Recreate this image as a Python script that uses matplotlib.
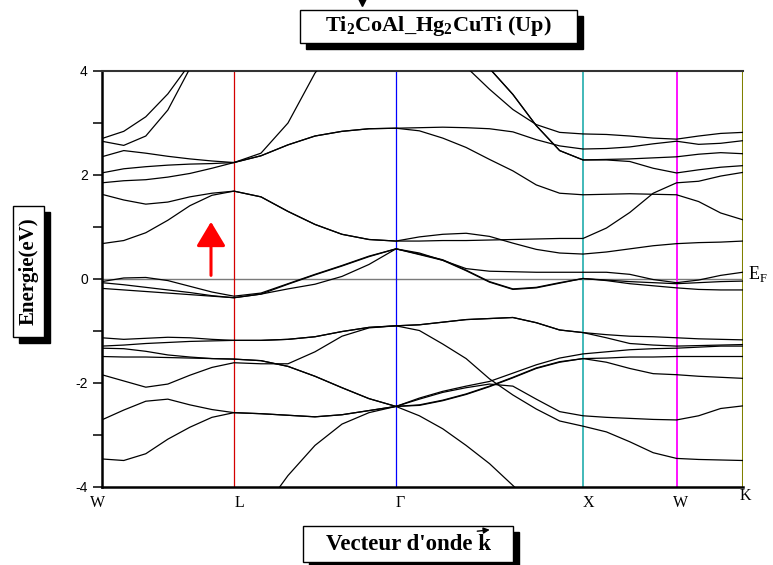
import numpy as np
import matplotlib
matplotlib.use('Agg')
import matplotlib.pyplot as plt
from matplotlib.transforms import offset_copy, IdentityTransform
from matplotlib.patches import FancyArrowPatch, Rectangle
from matplotlib.lines import Line2D

plt.rcParams['font.family'] = 'Liberation Sans'
plt.rcParams['axes.unicode_minus'] = False
plt.rcParams['mathtext.fontset'] = 'custom'
plt.rcParams['mathtext.rm'] = 'Liberation Serif'
plt.rcParams['mathtext.bf'] = 'Liberation Serif:bold'

# ── path W-L-Γ-X-W-K and sampling of each segment ─────────────────────────────
sym_labels = ['W', 'L', 'Γ', 'X', 'W', 'K']
seg_len = [0.7071, 0.8660, 1.0, 0.5, 0.3536]
seg_pts = [6, 6, 8, 4, 3]

#          W ........................................ L  ................................ Γ  ....................................................... X  ......................... W  ................. K
band_u1 = [2.69, 2.83, 3.11, 3.55, 4.13, 4.8, 5.4,  5.6, 5.8, 6.0, 6.0, 6.0, 6.0,  5.6, 5.0, 4.07, 3.64, 3.25, 2.96, 2.81, 2.78,  2.77, 2.74, 2.70, 2.68,  2.74, 2.79, 2.81]
band_u2 = [2.64, 2.56, 2.74, 3.24, 4.04, 4.8, 5.4,  5.7, 6.0, 6.2, 6.3, 6.3, 6.3,  5.9, 5.3, 4.7, 4.04, 3.54, 2.94, 2.46, 2.28,  2.29, 2.30, 2.32, 2.34,  2.39, 2.42, 2.40]
band_u3 = [2.34, 2.46, 2.41, 2.35, 2.30, 2.26, 2.23,  2.41, 2.99, 3.95, 4.6, 5.3, 6.3,  5.9, 5.3, 4.7, 4.04, 3.54, 2.94, 2.46, 2.28,  2.28, 2.25, 2.12, 2.03,  2.09, 2.14, 2.17]
band_u4 = [2.03, 2.11, 2.15, 2.18, 2.20, 2.21, 2.23,  2.36, 2.57, 2.74, 2.83, 2.88, 2.89,  2.90, 2.91, 2.90, 2.88, 2.82, 2.67, 2.55, 2.49,  2.50, 2.53, 2.59, 2.64,  2.58, 2.60, 2.65]
band_u5 = [1.84, 1.88, 1.90, 1.95, 2.02, 2.12, 2.23,  2.36, 2.57, 2.74, 2.83, 2.88, 2.89,  2.84, 2.70, 2.52, 2.29, 2.07, 1.80, 1.64, 1.61,  1.62, 1.63, 1.62, 1.61,  1.48, 1.26, 1.13]
band_u6 = [1.62, 1.51, 1.43, 1.47, 1.57, 1.64, 1.68,  1.57, 1.29, 1.04, 0.85, 0.75, 0.72,  0.80, 0.85, 0.87, 0.81, 0.68, 0.56, 0.49, 0.47,  0.51, 0.57, 0.63, 0.67,  0.69, 0.70, 0.72]
band_u7 = [0.67, 0.73, 0.88, 1.12, 1.40, 1.60, 1.68,  1.57, 1.29, 1.04, 0.85, 0.75, 0.72,  0.72, 0.73, 0.73, 0.74, 0.75, 0.76, 0.77, 0.77,  0.97, 1.27, 1.64, 1.84,  1.87, 1.97, 2.04]
band_f1 = [-0.06, 0.01, 0.02, -0.04, -0.15, -0.26, -0.34,  -0.28, -0.10, 0.08, 0.25, 0.43, 0.57,  0.49, 0.35, 0.19, 0.14, 0.13, 0.12, 0.12, 0.12,  0.12, 0.08, -0.02, -0.08,  -0.03, 0.06, 0.12]
band_f2 = [-0.08, -0.12, -0.17, -0.22, -0.27, -0.33, -0.37,  -0.30, -0.11, 0.07, 0.24, 0.42, 0.57,  0.47, 0.36, 0.16, -0.06, -0.20, -0.17, -0.08, 0.0,  -0.03, -0.06, -0.08, -0.10,  -0.08, -0.06, -0.05]
band_f3 = [-0.19, -0.22, -0.25, -0.28, -0.31, -0.34, -0.37,  -0.30, -0.20, -0.11, 0.04, 0.27, 0.57,  0.46, 0.35, 0.15, -0.07, -0.21, -0.18, -0.09, 0.0,  -0.04, -0.10, -0.14, -0.18,  -0.21, -0.22, -0.22]
band_b1 = [-1.14, -1.17, -1.15, -1.13, -1.14, -1.17, -1.19,  -1.19, -1.17, -1.12, -1.02, -0.94, -0.91,  -0.89, -0.84, -0.79, -0.77, -0.75, -0.85, -0.99, -1.04,  -1.08, -1.11, -1.12, -1.14,  -1.16, -1.17, -1.18]
band_b2 = [-1.30, -1.28, -1.25, -1.23, -1.21, -1.20, -1.19,  -1.19, -1.17, -1.12, -1.02, -0.94, -0.91,  -0.89, -0.84, -0.79, -0.77, -0.75, -0.85, -0.99, -1.04,  -1.14, -1.25, -1.28, -1.30,  -1.29, -1.28, -1.27]
band_b3 = [-1.34, -1.35, -1.40, -1.47, -1.51, -1.54, -1.55,  -1.58, -1.69, -1.88, -2.10, -2.31, -2.46,  -2.30, -2.17, -2.07, -1.98, -1.82, -1.66, -1.53, -1.45,  -1.41, -1.37, -1.35, -1.34,  -1.32, -1.30, -1.30]
band_b4 = [-1.50, -1.51, -1.51, -1.52, -1.53, -1.54, -1.55,  -1.58, -1.69, -1.88, -2.10, -2.31, -2.46,  -2.44, -2.35, -2.23, -2.08, -1.91, -1.73, -1.61, -1.54,  -1.53, -1.51, -1.51, -1.50,  -1.50, -1.50, -1.50]
band_b5 = [-1.85, -1.97, -2.09, -2.03, -1.86, -1.71, -1.62,  -1.64, -1.64, -1.41, -1.11, -0.95, -0.91,  -1.00, -1.26, -1.54, -1.93, -2.24, -2.51, -2.74, -2.84,  -2.95, -3.14, -3.35, -3.46,  -3.48, -3.49, -3.50]
band_b6 = [-2.72, -2.53, -2.36, -2.32, -2.43, -2.52, -2.58,  -2.60, -2.63, -2.66, -2.62, -2.54, -2.46,  -2.43, -2.34, -2.22, -2.07, -1.90, -1.72, -1.60, -1.54,  -1.61, -1.73, -1.83, -1.85,  -1.88, -1.90, -1.92]
band_b7 = [-3.47, -3.50, -3.37, -3.09, -2.86, -2.67, -2.58,  -2.60, -2.63, -2.66, -2.62, -2.54, -2.46,  -2.32, -2.19, -2.10, -2.03, -2.07, -2.32, -2.56, -2.64,  -2.67, -2.69, -2.71, -2.72,  -2.64, -2.50, -2.45]
band_b8 = [-6.0, -6.0, -6.0, -6.0, -6.0, -6.0, -5.5,  -4.5, -3.79, -3.21, -2.80, -2.58, -2.46,  -2.64, -2.89, -3.21, -3.56, -3.98, -4.4, -4.8, -5.2,  -5.5, -5.8, -6.0, -6.0,  -6.0, -6.0, -6.0]

bands = [band_u1, band_u2, band_u3, band_u4, band_u5, band_u6, band_u7,
         band_f1, band_f2, band_f3,
         band_b1, band_b2, band_b3, band_b4, band_b5, band_b6, band_b7, band_b8]

# k axis
sym_k = np.concatenate([[0.0], np.cumsum(seg_len)])
kgrid = [sym_k[0]]
for i, n in enumerate(seg_pts):
    kgrid.extend(np.linspace(sym_k[i], sym_k[i + 1], n + 1)[1:])
kgrid = np.array(kgrid)

# ── figure ────────────────────────────────────────────────────────────────────
W, H = 773, 565
fig = plt.figure(figsize=(W / 100, H / 100), dpi=100)
ax = fig.add_axes([101.7 / W, 1 - 486.5 / H, 641 / W, 416 / H])

for b in bands:
    ax.plot(kgrid, b, color='black', lw=0.9, zorder=3)

ax.axhline(0, color='#7a7a7a', lw=1.0, zorder=2)
sym_colors = [None, '#d40000', '#0000ff', '#33b3b3', '#ff00ff', '#808000']
sym_widths = [0, 0.9, 0.9, 1.3, 1.3, 2.2]
for k, c, w in zip(sym_k[1:], sym_colors[1:], sym_widths[1:]):
    ax.axvline(k, color=c, lw=w, zorder=2)

ax.set_xlim(sym_k[0], sym_k[-1])
ax.set_ylim(-4, 4)
ax.set_yticks([-4, -2, 0, 2, 4])
ax.set_yticks([-3, -1, 1, 3], minor=True)
ax.tick_params(axis='y', which='both', direction='out', length=6.5, width=1.1, pad=3.5,
               labelsize=10, right=False)
ax.set_xticks([])
for side in ['left', 'bottom']:
    ax.spines[side].set_linewidth(1.8)
ax.spines['top'].set_linewidth(1.5)
ax.spines['top'].set_color('#333333')
ax.spines['right'].set_visible(False)

# high-symmetry labels under the axis
lab_dx = [-4, 5, 4, 5, 4, 3]
lab_y = [-0.040, -0.040, -0.040, -0.040, -0.040, -0.023]
for k, lab, dx, yy in zip(sym_k, sym_labels, lab_dx, lab_y):
    tr = offset_copy(ax.get_xaxis_transform(), fig=fig, x=dx, y=0, units='dots')
    ax.text(k, yy, lab, transform=tr, ha='center', va='center',
            family='Liberation Serif', fontsize=11.5, clip_on=False)

# Fermi level label
tr = offset_copy(ax.get_yaxis_transform(), fig=fig, x=5, y=0, units='dots')
ax.text(1.0, 0.08, r'E$_{\mathrm{F}}$', transform=tr, ha='left', va='center',
        family='Liberation Serif', fontsize=13, clip_on=False)

# red arrow (spin up)
k_arrow = sym_k[-1] * (211 - 101.7) / 641
ax.annotate('', xy=(k_arrow, 1.09), xytext=(k_arrow, 0.06),
            arrowprops=dict(arrowstyle='-|>,head_length=0.75,head_width=0.45',
                            mutation_scale=20, color='red', lw=2.2,
                            shrinkA=0, shrinkB=0), zorder=4)


# boxed labels with a drop shadow (box corners in pixels from top-left)
def boxed(x0, y0, x1, y1, s, rot=0, size=16, sh=6):
    for d, fc, z in [(sh, 'black', 4), (0, 'white', 5)]:
        fig.add_artist(Rectangle(((x0 + d) / W, 1 - (y1 + d) / H),
                                 (x1 - x0) / W, (y1 - y0) / H,
                                 transform=fig.transFigure, fc=fc, ec='black',
                                 lw=1, zorder=z))
    return fig.text((x0 + x1) / 2 / W, 1 - (y0 + y1) / 2 / H, s, ha='center',
                    va='center', rotation=rot, fontsize=size, fontweight='bold',
                    family='Liberation Serif', zorder=6)


boxed(300, 10, 577, 43, r'Ti$_{\mathbf{2}}$CoAl_Hg$_{\mathbf{2}}$CuTi (Up)', size=16)
boxed(13, 206, 44, 337, 'Energie(eV)', rot=90, size=15)
xl = boxed(303, 526, 513, 562, "Vecteur d'onde k", size=16.5)

# arrow over the k of the x label
fig.canvas.draw()
bb = xl.get_window_extent()
fig.add_artist(FancyArrowPatch((bb.x1 - 16, bb.y1 + 2), (bb.x1 + 2, bb.y1 + 4),
                               transform=IdentityTransform(), arrowstyle='-|>',
                               mutation_scale=9, color='black', lw=1.0, zorder=7))
fig.add_artist(Line2D([362 / W], [1 - 2 / H], marker='v', ms=6, color='black',
                      transform=fig.transFigure))

fig.savefig('out.png', dpi=100)
